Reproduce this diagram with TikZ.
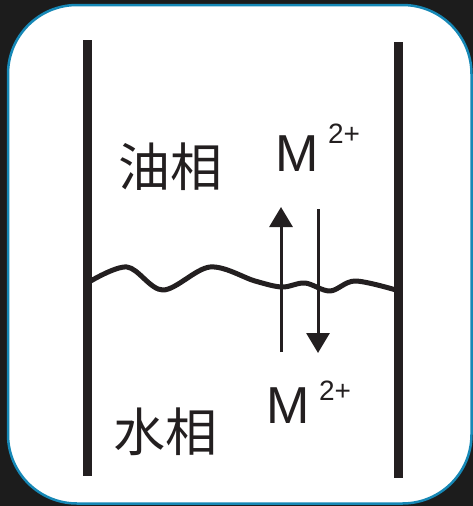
\documentclass[tikz,border=0pt]{standalone}
\usepackage{fontspec}
\setmainfont{Liberation Sans}
\newfontfamily\cjk{Noto Sans CJK SC}
\usetikzlibrary{arrows.meta}
\definecolor{ink}{HTML}{231F20}
\definecolor{bgdark}{HTML}{1C1C1C}
\definecolor{frameblue}{HTML}{1688B6}
\tikzset{
  wall/.style={draw=ink, line width=9pt},
  iface/.style={draw=ink, line width=5pt, line join=round},
  flux/.style={draw=ink, line width=3pt, -{Triangle[length=20pt,width=23pt]}},
  phase/.style={text=ink, font=\cjk\fontsize{52}{52}\selectfont, inner sep=0pt},
  ion/.style={text=ink, font=\fontsize{52}{52}\selectfont, inner sep=0pt, anchor=base},
  charge/.style={text=ink, font=\fontsize{28}{28}\selectfont, inner sep=0pt, anchor=base}
}
\begin{document}
\begin{tikzpicture}[x=1pt,y=-1pt]
\useasboundingbox (0,0) rectangle (473,506);
\fill[bgdark] (0,0) rectangle (473,506);
\draw[fill=white, draw=frameblue, line width=2.5pt, rounded corners=69pt] (8,5) rectangle (471.5,503.5);
% walls
\coordinate (lt) at (87,40);
\coordinate (lb) at (87,476);
\coordinate (rt) at (398,42);
\coordinate (rb) at (398,478);
\draw[wall] (lt) -- (lb);
\draw[wall] (rt) -- (rb);
% interface
\draw[iface] plot[smooth, tension=0.55] coordinates {(89,282) (127,267) (163,290) (210,267) (255,281) (282,287) (305,283) (330,291) (355,281) (396,290)};
% arrows
\coordinate (ua) at (281,352);
\coordinate (ub) at (281,207);
\coordinate (da) at (318,209);
\coordinate (db) at (318,353);
\draw[flux] (ua) -- (ub);
\draw[flux] (da) -- (db);
% labels
\node[phase] (oil) at (170,167) {油相};
\node[phase] (water) at (165.5,432) {水相};
\node[ion] (m1) at (297.5,171) {M};
\node[charge] (c1) at (344,143) {2+};
\node[ion] (m2) at (288.5,423) {M};
\node[charge] (c2) at (335,400) {2+};
\end{tikzpicture}
\end{document}
